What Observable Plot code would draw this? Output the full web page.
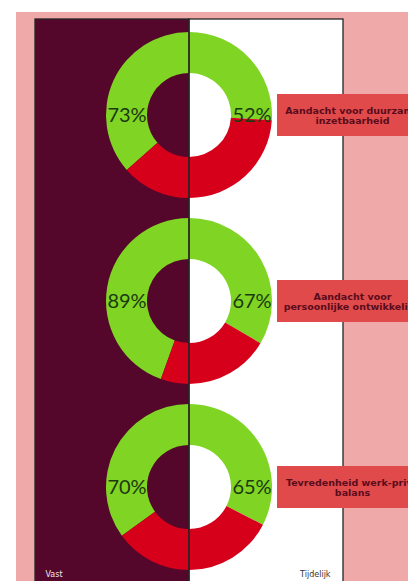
<!DOCTYPE html>
<html><head><meta charset="utf-8">
<script src="https://cdn.jsdelivr.net/npm/d3@7"></script>
<script src="https://cdn.jsdelivr.net/npm/@observablehq/plot@0.6"></script>
<style>
html,body{margin:0;padding:0;background:#fff;overflow:hidden;}
#chart{position:absolute;left:16px;top:12px;width:392px;height:569px;overflow:hidden;}
</style></head><body><div id="chart"></div>
<script>
const categories = ["Aandacht voor duurzame inzetbaarheid", "Aandacht voor persoonlijke ontwikkeling", "Tevredenheid werk-privé balans"];
const labelText = ["Aandacht voor duurzame\ninzetbaarheid", "Aandacht voor\npersoonlijke ontwikkeling", "Tevredenheid werk-privé\nbalans"];
const sides = ["Vast", "Tijdelijk"];
const vastValues = [73, 89, 70];
const tijdelijkValues = [52, 67, 65];
const LABEL = "label";

const rows = categories.flatMap((c, i) => [
  {cat: c, side: "Vast", value: vastValues[i]},
  {cat: c, side: "Tijdelijk", value: tijdelijkValues[i]}
]);

const GREEN = "#7fd424", RED = "#d7001b";
const panelFill = {Vast: "#54062b", Tijdelijk: "#ffffff"};

function donutMark(index, scales) {
  const x = scales.x, y = scales.y;
  const step = y(categories[1]) - y(categories[0]);
  const cx = x("Tijdelijk");
  const arc = d3.arc().innerRadius(42).outerRadius(83);
  const g = d3.create("svg:g");
  for (const r of rows) {
    const cy = y(r.cat) + step / 2;
    const f = r.value / 100 * Math.PI;
    const segs = r.side === "Vast"
      ? [[-f, 0, GREEN], [-Math.PI, -f, RED]]
      : [[0, f, GREEN], [f, Math.PI, RED]];
    for (const [a0, a1, col] of segs) {
      g.append("path")
        .attr("transform", `translate(${cx},${cy})`)
        .attr("d", arc({startAngle: a0, endAngle: a1}))
        .attr("fill", col);
    }
  }
  return g.node();
}

const chart = Plot.plot({
  width: 392, height: 569,
  marginTop: 7, marginBottom: 0, marginLeft: 19, marginRight: 65,
  style: {background: "#efa9a9", overflow: "hidden"},
  x: {type: "band", domain: [...sides, LABEL], range: [19, 481], padding: 0, axis: null},
  y: {type: "band", domain: categories, range: [10, 568], padding: 0, axis: null},
  marks: [
    Plot.cell(sides, {x: d => d, fill: d => panelFill[d], inset: 0}),
    donutMark,
    Plot.cell(sides, {x: d => d, fill: "none", stroke: "#262626", strokeWidth: 1.3, inset: 0, insetBottom: -3}),
    Plot.text(rows.filter(d => d.side === "Vast"), {x: "side", y: "cat", text: d => d.value + "%", dx: 14.5, fontSize: 20, fontFamily: "Lato", fill: "#1b3a10"}),
    Plot.text(rows.filter(d => d.side === "Tijdelijk"), {x: "side", y: "cat", text: d => d.value + "%", dx: -14.5, fontSize: 20, fontFamily: "Lato", fill: "#1b3a10"}),
    Plot.cell(categories, {x: () => LABEL, y: d => d, fill: "#e04a4a", insetTop: 72, insetBottom: 72, insetLeft: -66}),
    Plot.text(categories, {x: () => LABEL, y: d => d, text: (d, i) => labelText[i], dx: -68, fontSize: 9.5, fontWeight: "bold", fontFamily: "DejaVu Sans", fill: "#5a0c1c", lineHeight: 1.15}),
    Plot.text(["Vast"], {x: d => d, frameAnchor: "bottom", lineAnchor: "middle", textAnchor: "start", dx: -67, dy: -7, fontSize: 8, fontFamily: "DejaVu Sans", fill: "#f2e6ea"}),
    Plot.text(["Tijdelijk"], {x: d => d, frameAnchor: "bottom", lineAnchor: "middle", textAnchor: "end", dx: 64, dy: -7, fontSize: 8, fontFamily: "DejaVu Sans", fill: "#333333"})
  ]
});
document.getElementById("chart").appendChild(chart);
</script></body></html>
